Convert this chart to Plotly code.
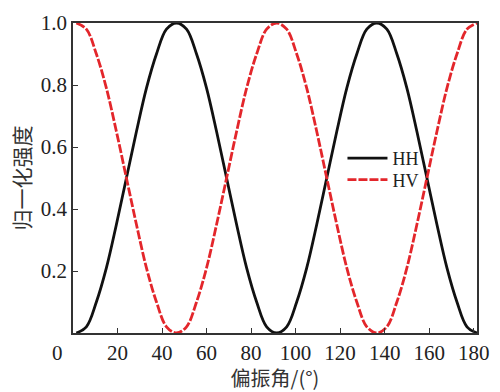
import plotly.graph_objects as go

# Polarization angle samples (degrees) and normalized intensities
angle = [1.5, 6, 10.5, 15, 19.5, 24, 28.5, 33, 37.5, 42, 46.5, 51, 55.5, 60, 64.5, 69,
         73.5, 78, 82.5, 87, 91.5, 96, 100.5, 105, 109.5, 114, 118.5, 123, 127.5, 132,
         136.5, 141, 145.5, 150, 154.5, 159, 163.5, 168, 172.5, 177, 181.5]
hh = [0.00, 0.02, 0.10, 0.21, 0.35, 0.50, 0.65, 0.79, 0.90, 0.98, 1.00, 0.98, 0.90, 0.79,
      0.65, 0.50, 0.35, 0.21, 0.10, 0.02, 0.00, 0.02, 0.10, 0.21, 0.35, 0.50, 0.65, 0.79,
      0.90, 0.98, 1.00, 0.98, 0.90, 0.79, 0.65, 0.50, 0.35, 0.21, 0.10, 0.02, 0.00]
hv = [1.00, 0.98, 0.90, 0.79, 0.65, 0.50, 0.35, 0.21, 0.10, 0.02, 0.00, 0.02, 0.10, 0.21,
      0.35, 0.50, 0.65, 0.79, 0.90, 0.98, 1.00, 0.98, 0.90, 0.79, 0.65, 0.50, 0.35, 0.21,
      0.10, 0.02, 0.00, 0.02, 0.10, 0.21, 0.35, 0.50, 0.65, 0.79, 0.90, 0.98, 1.00]

x_ticks = [0, 20, 40, 60, 80, 100, 120, 140, 160, 180]
y_ticks = [0.2, 0.4, 0.6, 0.8, 1.0]

serif = "Liberation Serif"
cjk = "Noto Sans CJK SC"
FS = "\u2007"  # figure space, pads the origin label so it sits left of the corner

fig = go.Figure()
fig.add_trace(go.Scatter(x=angle, y=hh, name="HH", mode="lines", legend="legend",
                         line=dict(color="#111111", width=2.8, shape="spline", smoothing=1.0)))
fig.add_trace(go.Scatter(x=angle, y=hv, name="HV", mode="lines", legend="legend2",
                         line=dict(color="#e3262b", width=2.8, dash="9px,2px",
                                   shape="spline", smoothing=1.0)))

axis_common = dict(showgrid=False, zeroline=False, showline=True, linecolor="#333333",
                   linewidth=1.5, mirror=True, ticks="inside", ticklen=5, tickwidth=1.3,
                   tickcolor="#333333", tickfont=dict(family=serif, size=21, color="#222222"))

fig.update_xaxes(range=[0, 181.5], tickvals=x_ticks,
                 ticktext=["0" + FS * 3] + [str(v) for v in x_ticks[1:]],
                 title=dict(text="偏振角/(°)", font=dict(family=cjk, size=20, color="#333333"),
                            standoff=2),
                 **axis_common)
fig.update_yaxes(range=[0, 1.0], tickvals=y_ticks, ticktext=[f"{v:.1f}" for v in y_ticks],
                 title=dict(text="归一化强度", font=dict(family=cjk, size=21, color="#333333"),
                            standoff=4),
                 **axis_common)

legend_common = dict(xanchor="left", yanchor="middle", bgcolor="rgba(0,0,0,0)",
                     font=dict(family=serif, size=18, color="#222222"), itemwidth=40)

fig.update_layout(
    width=500, height=392,
    margin=dict(l=73, r=11, t=17, b=55),
    paper_bgcolor="white", plot_bgcolor="white",
    showlegend=True,
    legend=dict(x=0.667, y=0.563, **legend_common),
    legend2=dict(x=0.667, y=0.494, **legend_common),
)

fig.write_html("out.html")
